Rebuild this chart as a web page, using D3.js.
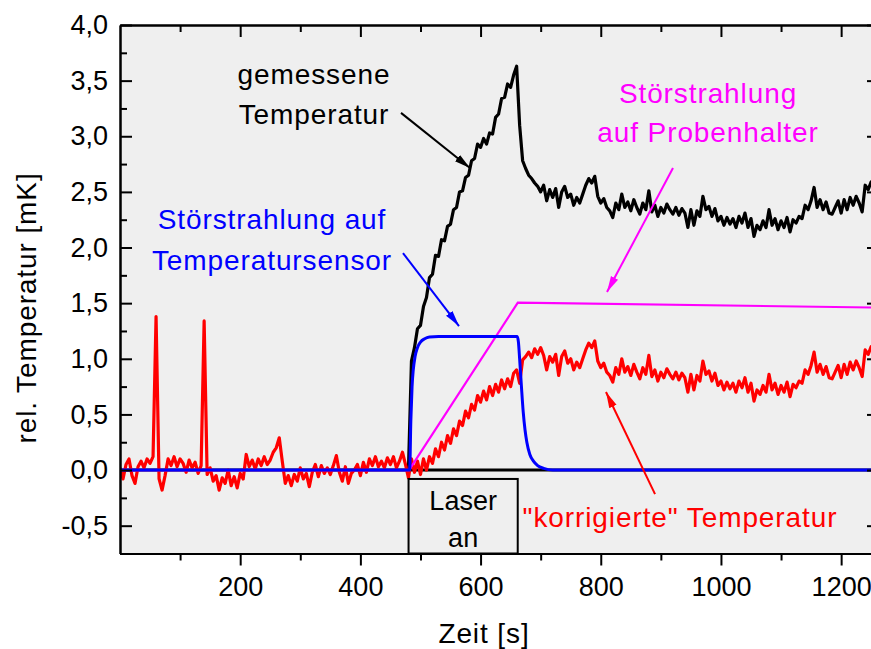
<!DOCTYPE html>
<html>
<head>
<meta charset="utf-8">
<script src="https://cdn.jsdelivr.net/npm/d3@7"></script>
<style>
  body { margin: 0; background: #fff; }
  svg { display: block; }
  text { font-family: "Liberation Sans", Arial, sans-serif; }
</style>
</head>
<body>
<svg id="chart" width="871" height="649"></svg>
<script>
// Sampling step of the two recorded traces, in seconds
const sampleStep = 5;

// "korrigierte" Temperatur [mK], starting at t = 0 s
const correctedStart = 0;
const corrected = [
  0.02, -0.08, 0.05, 0.10, -0.05, -0.12, 0.03, 0.08, 0.02, 0.10,
  0.06, 0.12, 1.38, -0.08, -0.18, -0.05, 0.10, 0.04, 0.12, 0.03,
  0.10, 0.06, -0.02, 0.09, 0.02, 0.07, -0.03, 0.04, 1.34, -0.04,
  0.02, -0.10, -0.05, -0.18, -0.07, -0.12, 0.00, -0.14, -0.06, -0.16,
  -0.03, -0.08, 0.14, 0.03, 0.09, 0.01, 0.10, 0.04, 0.12, 0.05,
  0.09, 0.16, 0.20, 0.29, 0.08, -0.12, -0.05, -0.14, -0.04, -0.10,
  0.02, -0.08, -0.03, -0.15, -0.02, 0.05, -0.06, 0.04, -0.03, 0.02,
  -0.04, 0.04, 0.13, -0.02, -0.10, 0.03, -0.12, -0.03, 0.00, 0.05,
  -0.05, 0.07, -0.02, 0.10, 0.04, 0.12, 0.03, 0.08, 0.02, 0.11,
  0.05, 0.12, 0.02, 0.08, 0.16, 0.05, -0.07, 0.10, -0.02, 0.08,
  -0.04, 0.10, 0.00, 0.12, 0.06, 0.19, 0.12, 0.25, 0.18, 0.31,
  0.24, 0.37, 0.31, 0.44, 0.40, 0.53, 0.47, 0.59, 0.54, 0.67,
  0.61, 0.71, 0.63, 0.75, 0.67, 0.77, 0.70, 0.81, 0.73, 0.82,
  0.75, 0.87, 0.90, 0.78, 0.99, 1.02, 1.06, 1.01, 1.09, 1.04,
  1.10, 1.03, 0.90, 1.02, 0.97, 1.04, 0.85, 1.02, 1.07, 0.96,
  1.00, 0.90, 0.97, 0.92, 1.00, 1.08, 1.14, 1.10, 1.16, 0.98,
  0.92, 0.96, 0.88, 0.85, 0.79, 0.92, 0.86, 1.00, 0.88, 0.93,
  0.85, 0.95, 0.88, 0.82, 0.92, 0.86, 1.03, 0.84, 0.90, 0.80,
  0.88, 0.83, 0.91, 0.86, 0.82, 0.88, 0.81, 0.87, 0.83, 0.70,
  0.86, 0.72, 0.85, 0.80, 0.98, 0.86, 0.89, 0.80, 0.87, 0.76,
  0.80, 0.72, 0.79, 0.73, 0.78, 0.70, 0.80, 0.74, 0.83, 0.70,
  0.78, 0.62, 0.72, 0.68, 0.76, 0.70, 0.86, 0.72, 0.78, 0.68,
  0.76, 0.70, 0.79, 0.66, 0.77, 0.74, 0.80, 0.78, 0.90, 0.86,
  0.94, 1.06, 0.88, 0.95, 0.86, 0.93, 0.83, 0.82, 0.88, 0.94,
  0.83, 0.95, 0.86, 0.97, 0.90, 0.98, 0.92, 0.84, 1.08, 1.04,
  1.11, 1.10, 1.12
];

// gemessene Temperatur [mK] from the moment the laser is switched on
const measuredStart = 480;
const measured = [
  0.00, 0.98, 1.10, 1.27, 1.30, 1.47, 1.55, 1.73, 1.76, 1.93,
  1.92, 2.07, 2.06, 2.19, 2.21, 2.34, 2.36, 2.50, 2.51, 2.63,
  2.65, 2.78, 2.80, 2.93, 2.90, 2.98, 2.93, 3.03, 3.02, 3.17,
  3.20, 3.34, 3.35, 3.47, 3.44, 3.55, 3.63, 3.10, 2.78, 2.71,
  2.65, 2.62, 2.58, 2.55, 2.50, 2.56, 2.42, 2.52, 2.45, 2.53,
  2.36, 2.50, 2.55, 2.45, 2.48, 2.38, 2.45, 2.40, 2.48, 2.56,
  2.62, 2.58, 2.64, 2.46, 2.40, 2.44, 2.36, 2.33, 2.27, 2.40,
  2.34, 2.48, 2.36, 2.41, 2.33, 2.43, 2.36, 2.30, 2.40, 2.34,
  2.51, 2.32, 2.38, 2.28, 2.36, 2.31, 2.39, 2.34, 2.30, 2.36,
  2.29, 2.35, 2.31, 2.18, 2.34, 2.20, 2.33, 2.28, 2.46, 2.34,
  2.37, 2.28, 2.35, 2.24, 2.28, 2.20, 2.27, 2.21, 2.26, 2.18,
  2.28, 2.22, 2.31, 2.18, 2.26, 2.10, 2.20, 2.16, 2.24, 2.18,
  2.34, 2.20, 2.26, 2.16, 2.24, 2.18, 2.27, 2.14, 2.25, 2.22,
  2.28, 2.26, 2.38, 2.34, 2.42, 2.54, 2.36, 2.43, 2.34, 2.41,
  2.31, 2.30, 2.36, 2.42, 2.31, 2.43, 2.34, 2.45, 2.38, 2.46,
  2.40, 2.32, 2.56, 2.52, 2.59, 2.58, 2.60
];

// Störstrahlung auf Temperatursensor [mK]
const sensorTime  = [0, 482, 484, 486, 488, 491, 495, 500, 507, 515, 530, 661, 663, 665, 668, 671, 674, 677, 682, 688, 695, 705, 720, 1263];
const sensorValue = [0, 0, 0.45, 0.75, 0.90, 1.02, 1.10, 1.15, 1.18, 1.195, 1.20, 1.20, 1.15, 1.00, 0.75, 0.52, 0.36, 0.25, 0.14, 0.08, 0.04, 0.015, 0, 0];

// Störstrahlung auf Probenhalter [mK]
const holderTime  = [0, 481, 662, 1263];
const holderValue = [0, 0, 1.505, 1.46];

// Axis ticks
const xMajorTicks = [200, 400, 600, 800, 1000, 1200];
const xMinorTicks = [100, 300, 500, 700, 900, 1100];
const yMajorTicks = [-0.5, 0, 0.5, 1.0, 1.5, 2.0, 2.5, 3.0, 3.5, 4.0];
const yMinorTicks = [-0.75, -0.25, 0.25, 0.75, 1.25, 1.75, 2.25, 2.75, 3.25, 3.75];

const xDomain = [0, 1263];
const yDomain = [-0.75, 4.0];

const svg = d3.select("#chart");
const plot = { left: 120, right: 879, top: 25, bottom: 553.5 };

const x = d3.scaleLinear().domain(xDomain).range([plot.left, plot.right]);
const y = d3.scaleLinear().domain(yDomain).range([plot.bottom, plot.top]);

const fmt = v => v.toFixed(1).replace(".", ",");
const TICK_FONT = 27;
const NOTE_FONT = 28;
const NOTE_SPACING = 0.9;

// Plot background
svg.append("rect")
  .attr("x", plot.left).attr("y", plot.top)
  .attr("width", plot.right - plot.left).attr("height", plot.bottom - plot.top)
  .attr("fill", "#efefef");

svg.append("clipPath").attr("id", "plotClip")
  .append("rect")
  .attr("x", plot.left).attr("y", plot.top)
  .attr("width", plot.right - plot.left).attr("height", plot.bottom - plot.top);

const g = svg.append("g").attr("clip-path", "url(#plotClip)");

// "Laser an" box, sitting on the time axis
const laserOn = 481, laserOff = 661;
svg.append("rect")
  .attr("x", x(laserOn) - 0.5).attr("y", y(-0.08))
  .attr("width", x(laserOff) - x(laserOn) + 1).attr("height", plot.bottom - y(-0.08))
  .attr("fill", "#efefef").attr("stroke", "#000").attr("stroke-width", 2);
svg.append("text").attr("x", (x(laserOn) + x(laserOff)) / 2).attr("y", 510)
  .attr("text-anchor", "middle").attr("font-size", TICK_FONT).text("Laser");
svg.append("text").attr("x", (x(laserOn) + x(laserOff)) / 2).attr("y", 547)
  .attr("text-anchor", "middle").attr("font-size", TICK_FONT).text("an");

// Zero reference
g.append("line")
  .attr("x1", plot.left).attr("x2", plot.right)
  .attr("y1", y(0)).attr("y2", y(0))
  .attr("stroke", "#000").attr("stroke-width", 3);

const line = d3.line().x(d => x(d[0])).y(d => y(d[1]));
const seriesFrom = (start, values) => values.map((v, i) => [start + i * sampleStep, v]);
const pairs = (ts, vs) => ts.map((t, i) => [t, vs[i]]);

g.append("path").datum(seriesFrom(measuredStart, measured))
  .attr("d", line).attr("fill", "none").attr("stroke", "#000")
  .attr("stroke-width", 3.2).attr("stroke-linejoin", "round");

g.append("path").datum(seriesFrom(correctedStart, corrected))
  .attr("d", line).attr("fill", "none").attr("stroke", "#ff0000")
  .attr("stroke-width", 3.2).attr("stroke-linejoin", "round");

g.append("path").datum(pairs(holderTime, holderValue))
  .attr("d", line).attr("fill", "none").attr("stroke", "#ff00ff")
  .attr("stroke-width", 2.2);

g.append("path").datum(pairs(sensorTime, sensorValue))
  .attr("d", d3.line().x(d => x(d[0])).y(d => y(d[1])).curve(d3.curveMonotoneX))
  .attr("fill", "none").attr("stroke", "#0000ff").attr("stroke-width", 3);

// Axes
function styleAxis(sel) {
  sel.select(".domain").attr("stroke", "#000").attr("stroke-width", 2);
  sel.selectAll(".tick line").attr("stroke", "#000").attr("stroke-width", 2);
  sel.selectAll(".tick text").attr("fill", "#000").attr("font-family", '"Liberation Sans", Arial, sans-serif');
}

// left: inward ticks, labelled
svg.append("g").attr("transform", `translate(${plot.left},0)`)
  .call(d3.axisLeft(y).tickValues(yMajorTicks).tickSizeInner(-12).tickSizeOuter(0)
        .tickPadding(12).tickFormat(fmt))
  .call(styleAxis)
  .call(s => s.selectAll(".tick text").attr("font-size", TICK_FONT));
svg.append("g").attr("transform", `translate(${plot.left},0)`)
  .call(d3.axisLeft(y).tickValues(yMinorTicks).tickSizeInner(-7).tickSizeOuter(0).tickFormat(""))
  .call(styleAxis);

// right: inward ticks only
svg.append("g").attr("transform", `translate(${plot.right},0)`)
  .call(d3.axisRight(y).tickValues(yMajorTicks).tickSizeInner(-12).tickSizeOuter(0).tickFormat(""))
  .call(styleAxis);
svg.append("g").attr("transform", `translate(${plot.right},0)`)
  .call(d3.axisRight(y).tickValues(yMinorTicks).tickSizeInner(-7).tickSizeOuter(0).tickFormat(""))
  .call(styleAxis);

// bottom: outward ticks, labelled
svg.append("g").attr("transform", `translate(0,${plot.bottom})`)
  .call(d3.axisBottom(x).tickValues(xMajorTicks).tickSizeInner(12).tickSizeOuter(0)
        .tickPadding(11).tickFormat(d3.format("d")))
  .call(styleAxis)
  .call(s => s.selectAll(".tick text").attr("font-size", TICK_FONT));
svg.append("g").attr("transform", `translate(0,${plot.bottom})`)
  .call(d3.axisBottom(x).tickValues(xMinorTicks).tickSizeInner(7).tickSizeOuter(0).tickFormat(""))
  .call(styleAxis);

// top: inward ticks only
svg.append("g").attr("transform", `translate(0,${plot.top})`)
  .call(d3.axisTop(x).tickValues(xMajorTicks).tickSizeInner(-12).tickSizeOuter(0).tickFormat(""))
  .call(styleAxis);
svg.append("g").attr("transform", `translate(0,${plot.top})`)
  .call(d3.axisTop(x).tickValues(xMinorTicks).tickSizeInner(-7).tickSizeOuter(0).tickFormat(""))
  .call(styleAxis);

// Axis titles
svg.append("text")
  .attr("transform", `translate(36,308) rotate(-90)`)
  .attr("text-anchor", "middle").attr("font-size", NOTE_FONT)
  .attr("letter-spacing", NOTE_SPACING)
  .text("rel. Temperatur [mK]");
svg.append("text")
  .attr("x", 484).attr("y", 643)
  .attr("text-anchor", "middle").attr("font-size", NOTE_FONT)
  .attr("letter-spacing", NOTE_SPACING)
  .text("Zeit [s]");

// Annotations: labels and arrows pointing at the curves
const defs = svg.append("defs");
function arrowHead(id, color) {
  defs.append("marker").attr("id", id)
    .attr("viewBox", "0 0 16 10").attr("refX", 16).attr("refY", 5)
    .attr("markerUnits", "userSpaceOnUse")
    .attr("markerWidth", 16).attr("markerHeight", 10)
    .attr("orient", "auto")
    .append("path").attr("d", "M0,1 L16,5 L0,9 Z").attr("fill", color);
}

const notes = [
  { color: "#000000", lines: ["gemessene", "Temperatur"], cx: 314, base: [84, 124],
    from: [467.6, 3.21], to: [582.4, 2.714] },
  { color: "#0000ff", lines: ["Störstrahlung auf", "Temperatursensor"], cx: 272, base: [229, 270],
    from: [470.9, 1.95], to: [564.1, 1.294] },
  { color: "#ff00ff", lines: ["Störstrahlung", "auf Probenhalter"], cx: 708, base: [103, 142],
    from: [920.2, 2.714], to: [810.4, 1.60] },
  { color: "#ff0000", lines: ["\"korrigierte\" Temperatur"], cx: 680, base: [527],
    from: [890.3, -0.216], to: [808.7, 0.701] }
];

notes.forEach((n, i) => {
  const id = "arrow" + i;
  arrowHead(id, n.color);
  n.lines.forEach((t, j) => {
    svg.append("text").attr("x", n.cx).attr("y", n.base[j])
      .attr("text-anchor", "middle").attr("font-size", NOTE_FONT)
      .attr("letter-spacing", NOTE_SPACING)
      .attr("fill", n.color).text(t);
  });
  svg.append("line")
    .attr("x1", x(n.from[0])).attr("y1", y(n.from[1]))
    .attr("x2", x(n.to[0])).attr("y2", y(n.to[1]))
    .attr("stroke", n.color).attr("stroke-width", 2)
    .attr("marker-end", `url(#${id})`);
});
</script>
</body>
</html>
